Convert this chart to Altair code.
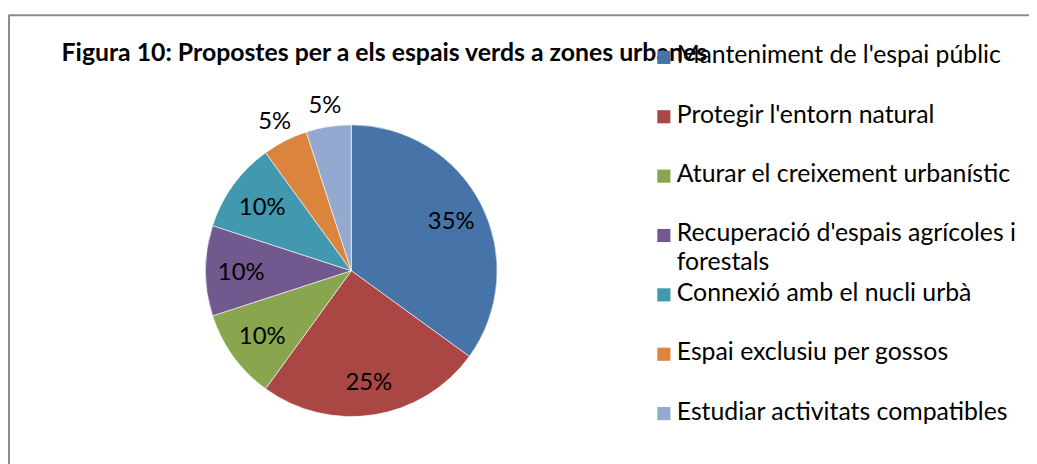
import altair as alt
import pandas as pd

title_text = "Figura 10: Propostes per a els espais verds a zones urbanes"
cats = [
    "Manteniment de l'espai públic",
    "Protegir l'entorn natural",
    "Aturar el creixement urbanístic",
    "Recuperació d'espais agrícoles i forestals",
    "Connexió amb el nucli urbà",
    "Espai exclusiu per gossos",
    "Estudiar activitats compatibles",
]
values = [35, 25, 10, 10, 10, 5, 5]
line1 = [
    "Manteniment de l'espai públic",
    "Protegir l'entorn natural",
    "Aturar el creixement urbanístic",
    "Recuperació d'espais agrícoles i",
    "Connexió amb el nucli urbà",
    "Espai exclusiu per gossos",
    "Estudiar activitats compatibles",
]
line2 = ["", "", "", "forestals", "", "", ""]
colors = ["#4674A8", "#AA4643", "#89A54E", "#71588F", "#4198AF", "#DB843D", "#93A9CF"]

df = pd.DataFrame({
    "cat": cats,
    "value": values,
    "idx": list(range(len(cats))),
    "line1": line1,
    "line2": line2,
})
df["label"] = [f"{v}%" for v in values]

FONT = "Lato"
DX = 3
CX, CY, R = 338 + DX, 258, 147

color = alt.Color("cat:N", scale=alt.Scale(domain=cats, range=colors), legend=None)
base = alt.Chart(df)

pie = base.mark_arc(outerRadius=R, stroke="white", strokeWidth=0.6).encode(
    theta=alt.Theta("value:Q", stack=True),
    color=color,
    order=alt.Order("idx:Q"),
    x=alt.value(CX),
    y=alt.value(CY),
)

labels = base.transform_window(
    cum="sum(value)", sort=[alt.SortField("idx")], frame=[None, 0]
).transform_joinaggregate(
    total="sum(value)"
).transform_calculate(
    mid="(datum.cum - datum.value / 2) / datum.total * 2 * PI",
    r="datum.value >= 20 ? 113 : (datum.value >= 10 ? 111 : 170)",
).mark_text(font=FONT, fontSize=24, color="black", align="center", baseline="middle", dy=2).encode(
    theta=alt.Theta("mid:Q", scale=None, stack=None),
    radius=alt.Radius("r:Q", scale=None),
    text="label:N",
    x=alt.value(CX),
    y=alt.value(CY),
)

yleg = alt.Y("cat:N", sort=cats, scale=alt.Scale(type="point", range=[41, 400], padding=0), axis=None)

leg_sym = base.mark_square(size=175, opacity=1, yOffset=2).encode(
    y=yleg, x=alt.value(653 + DX), color=color
)
leg_t1 = base.mark_text(font=FONT, fontSize=25, align="left", baseline="middle", color="black").encode(
    y=yleg, x=alt.value(666 + DX), text="line1:N"
)
leg_t2 = base.mark_text(font=FONT, fontSize=25, align="left", baseline="middle", color="black", dy=29).encode(
    y=yleg, x=alt.value(666 + DX), text="line2:N"
)

one = alt.Chart(pd.DataFrame({"t": [title_text]}))
title = one.mark_text(font=FONT, fontSize=25, fontWeight="bold", align="left", baseline="middle", color="black").encode(
    x=alt.value(46 + DX), y=alt.value(39), text="t:N"
)
border_top = one.mark_rule(color="#8c8c8c", strokeWidth=2).encode(
    x=alt.value(-4), x2=alt.value(1030), y=alt.value(0.5)
)
border_left = one.mark_rule(color="#8c8c8c", strokeWidth=2).encode(
    x=alt.value(-4), y=alt.value(0), y2=alt.value(460)
)

chart = alt.layer(
    border_top, border_left, pie, labels, title, leg_sym, leg_t1, leg_t2
).properties(
    width=1024, height=451,
    padding={"left": 5, "top": 5, "right": 0, "bottom": 0},
    autosize=alt.AutoSizeParams(type="none"),
).configure_view(stroke=None)

chart.save("out.html", embed_options={"renderer": "svg", "actions": False})
